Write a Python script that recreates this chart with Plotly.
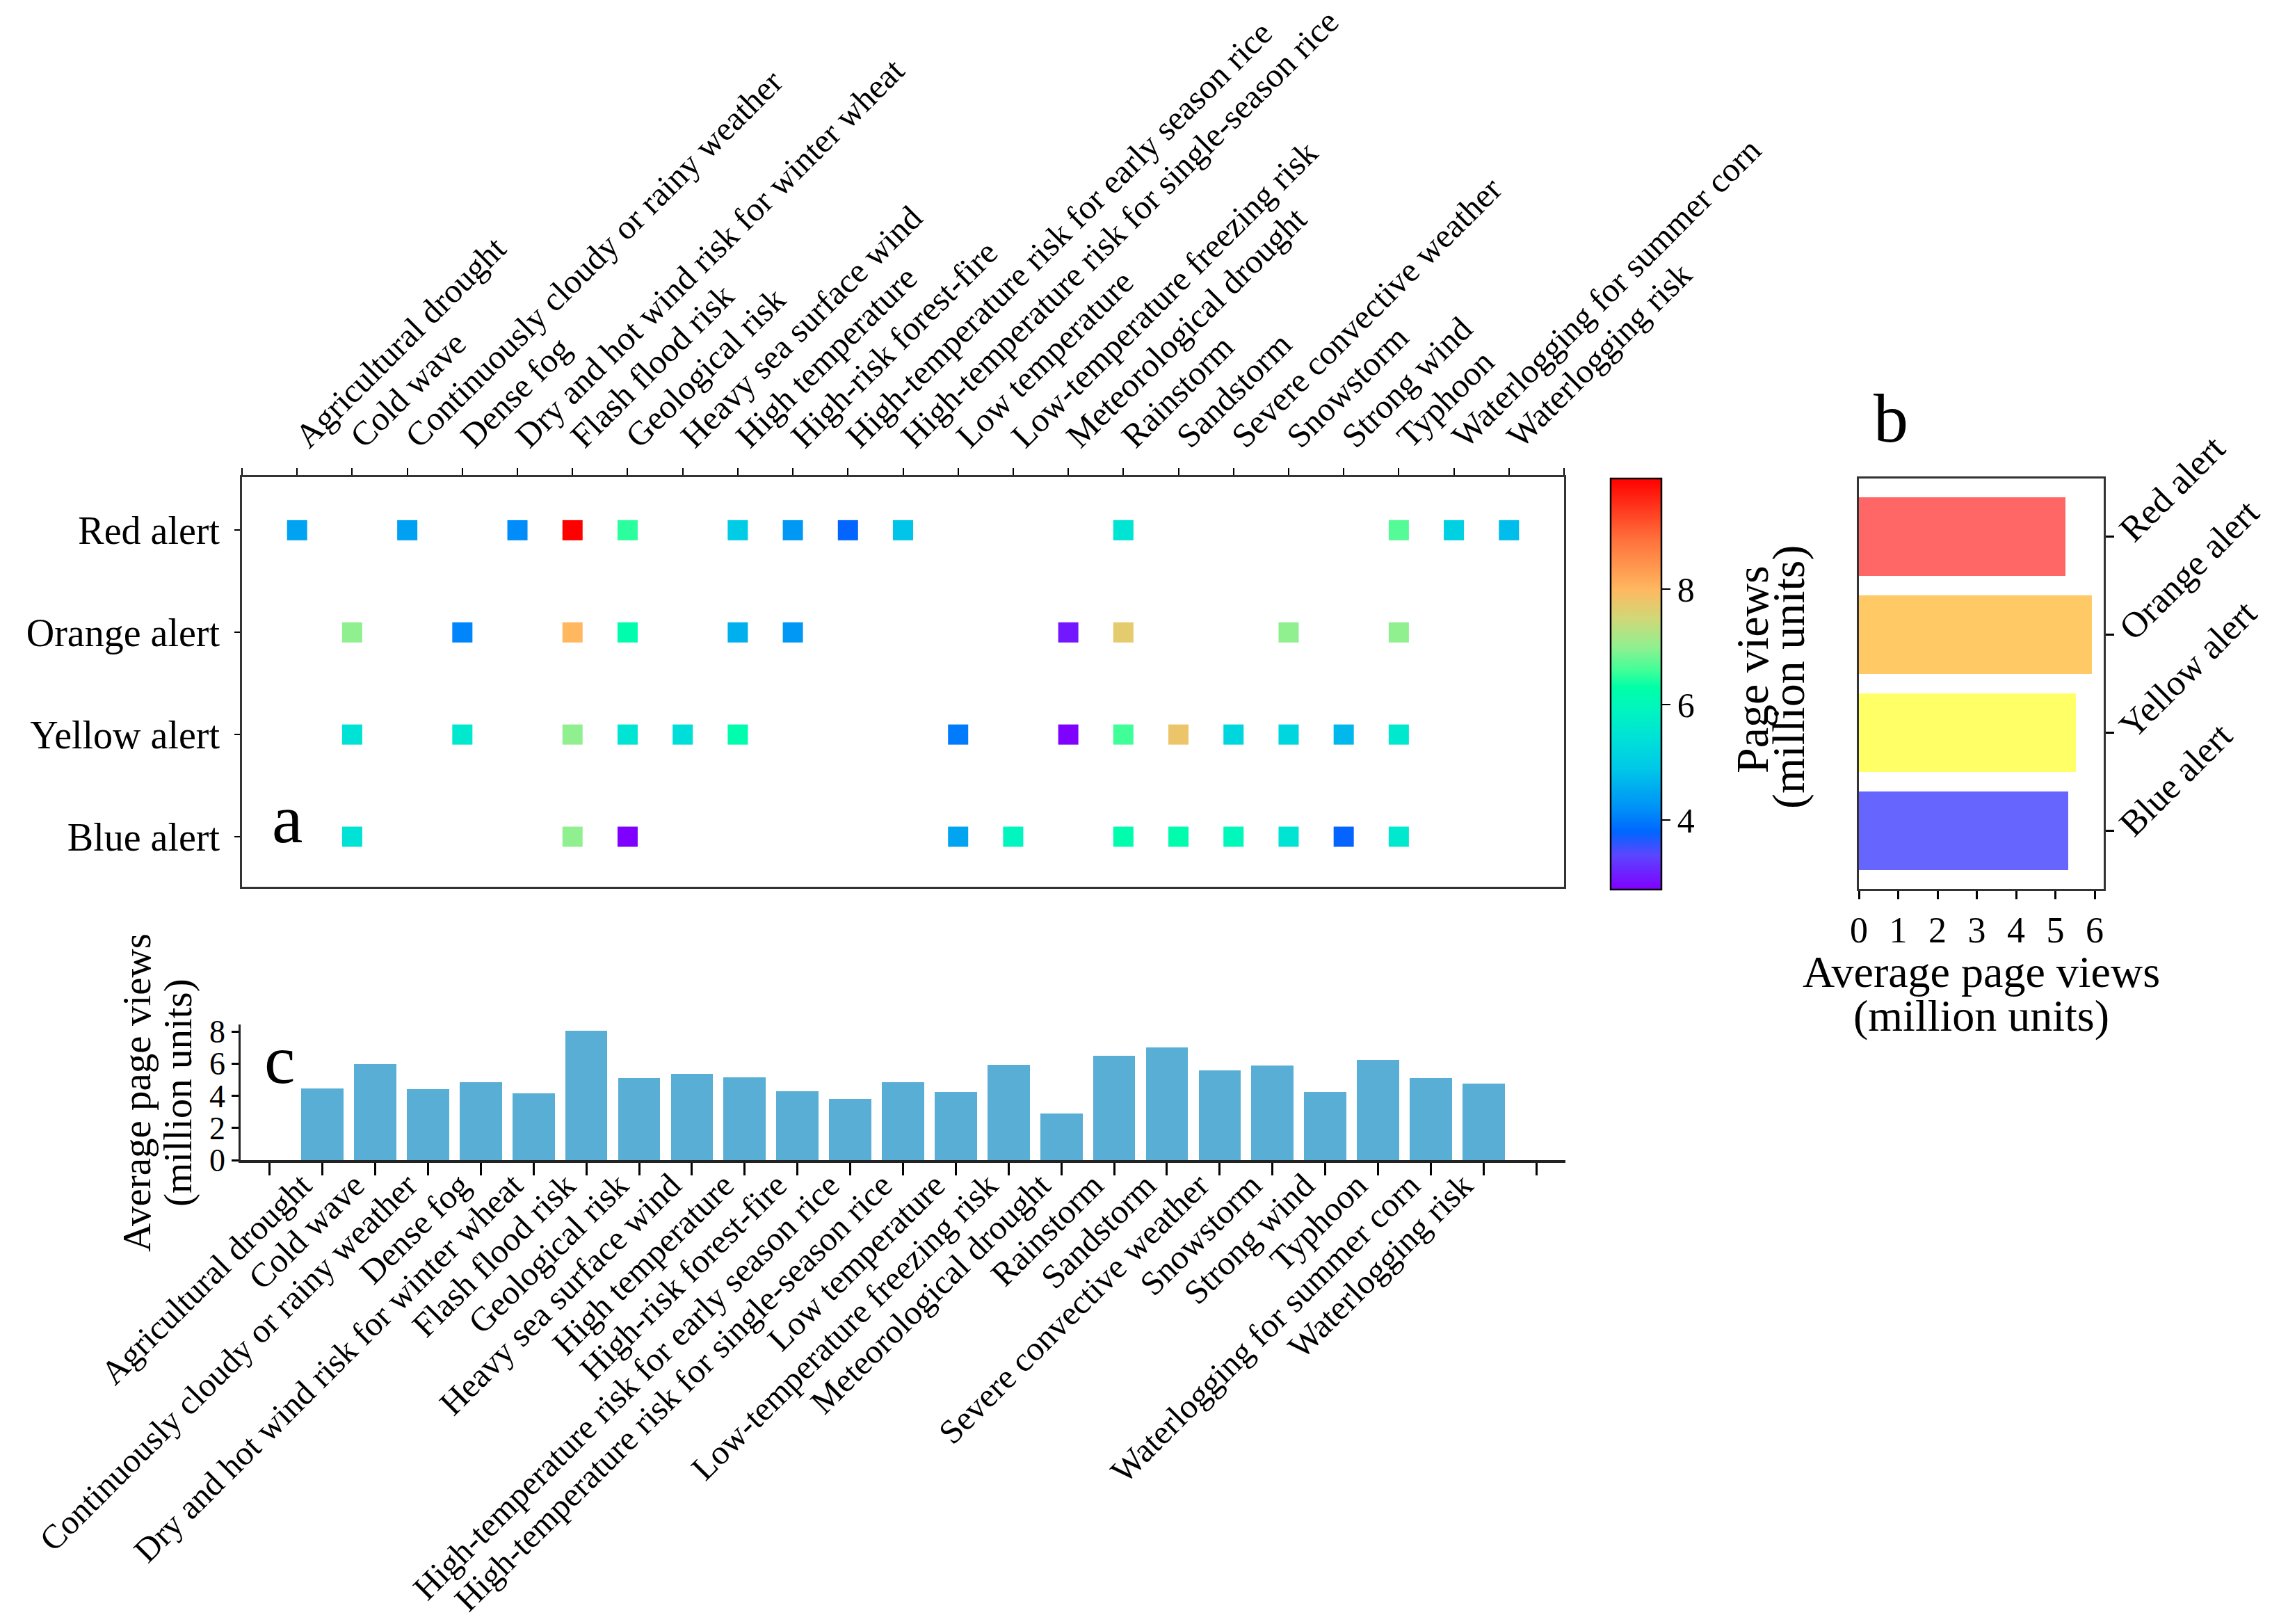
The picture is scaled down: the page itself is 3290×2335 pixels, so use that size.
import plotly.graph_objects as go

# ---------------- data ----------------
hazards = [
    "Agricultural drought", "Cold wave", "Continuously cloudy or rainy weather", "Dense fog",
    "Dry and hot wind risk for winter wheat", "Flash flood risk", "Geological risk",
    "Heavy sea surface wind", "High temperature", "High-risk forest-fire",
    "High-temperature risk for early season rice", "High-temperature risk for single-season rice",
    "Low temperature", "Low-temperature freezing risk", "Meteorological drought", "Rainstorm",
    "Sandstorm", "Severe convective weather", "Snowstorm", "Strong wind", "Typhoon",
    "Waterlogging for summer corn", "Waterlogging risk",
]
alerts = ["Red alert", "Orange alert", "Yellow alert", "Blue alert"]

# page views (million units) per hazard, None = no alert of that level
red_views = [4.44, None, 4.40, None, 4.17, 9.93, 6.5, None, 5.0, 4.3, 3.79, 4.86, None,
             None, None, 5.5, None, None, None, None, 6.7, 5.09, 4.76]
orange_views = [None, 7.0, None, 4.1, None, 8.0, 6.2, None, 4.6, 4.3, None, None, None,
                None, 3.0, 7.7, None, None, 7.0, None, 7.0, None, None]
yellow_views = [None, 5.45, None, 5.6, None, 7.0, 5.5, 5.36, 6.2, None, None, None, 4.0,
                None, 2.82, 6.6, 7.8, 5.2, 5.2, 4.7, 5.6, None, None]
blue_views = [None, 5.45, None, None, None, 7.0, 2.8, None, None, None, None, None, 4.45,
              5.91, None, 6.2, 6.2, 6.0, 5.5, 3.78, 5.6, None, None]

# average page views per alert level (panel b)
alert_avg = [5.25, 5.93, 5.53, 5.33]
alert_colors = ["rgba(255,0,0,0.6)", "rgba(255,165,0,0.6)",
                "rgba(255,255,0,0.6)", "rgba(0,0,255,0.6)"]

# average page views per hazard (panel c)
hazard_avg = [4.44, 5.97, 4.40, 4.84, 4.17, 8.04, 5.09, 5.36, 5.17, 4.30, 3.79, 4.86,
              4.24, 5.91, 2.91, 6.49, 7.00, 5.58, 5.89, 4.24, 6.23, 5.09, 4.76]

cmin, cmax = 2.8, 9.93
stops = [(2.8, "#8000FF"), (3.4, "#5A46FF"), (3.8, "#0066FF"), (4.2, "#0090F8"),
         (4.5, "#00A8F0"), (4.9, "#00C8E8"), (5.4, "#00E0D8"), (5.9, "#00F5C0"),
         (6.3, "#00FFA8"), (6.6, "#40FF98"), (7.0, "#90F090"), (7.5, "#D0D878"),
         (8.0, "#FFB860"), (8.9, "#FF6E3A"), (9.93, "#FF0000")]
colorscale = [[(v - cmin) / (cmax - cmin), c] for v, c in stops]

FONT = "Liberation Serif"
pad_l, pad_r = " ", "  "
cat_array = [pad_l] + hazards + [pad_r]

W, H = 3290, 2335

def px_x(x):
    return x / W

def px_y(y):
    return 1 - y / H

fig = go.Figure()

# ---------------- panel a ----------------
for name, vals in zip(alerts, [red_views, orange_views, yellow_views, blue_views]):
    xs = [h for h, v in zip(hazards, vals) if v is not None]
    vs = [v for v in vals if v is not None]
    fig.add_trace(go.Scatter(
        x=xs, y=[name] * len(xs), mode="markers",
        marker=dict(symbol="square", size=29, color=vs, coloraxis="coloraxis",
                    line=dict(width=0)),
        xaxis="x", yaxis="y", showlegend=False, name=name))

# ---------------- panel b ----------------
fig.add_trace(go.Bar(
    x=alert_avg, y=alerts, orientation="h", width=0.8,
    marker=dict(color=alert_colors, line=dict(width=0)),
    xaxis="x2", yaxis="y2", showlegend=False))

# ---------------- panel c ----------------
fig.add_trace(go.Bar(
    x=hazards, y=hazard_avg, width=0.8,
    marker=dict(color="#58AED4", line=dict(width=0)),
    xaxis="x3", yaxis="y3", showlegend=False))

line_col = "#333333"
tick_font = dict(family=FONT, size=49, color="black")


def label(text, x, y, size, angle=0):
    return dict(text=text, x=px_x(x), y=px_y(y), xref="paper", yref="paper",
                xanchor="center", yanchor="middle", showarrow=False, textangle=angle,
                font=dict(family=FONT, size=size, color="black"))


fig.update_layout(
    template="none",
    width=W, height=H,
    margin=dict(l=0, r=0, t=0, b=0, autoexpand=False),
    paper_bgcolor="white", plot_bgcolor="white",
    font=dict(family=FONT, color="black"),
    bargap=0,
    coloraxis=dict(
        colorscale=colorscale, cmin=cmin, cmax=cmax,
        colorbar=dict(
            x=px_x(2308), xanchor="left", xpad=0,
            y=px_y(975), yanchor="middle", ypad=0,
            len=591, lenmode="pixels", thickness=73, thicknessmode="pixels",
            outlinewidth=2.5, outlinecolor="black",
            tickvals=[4, 6, 8], ticks="outside", ticklen=12, tickwidth=2,
            tickcolor="black",
            tickfont=dict(family=FONT, size=50, color="black"),
        ),
    ),
    xaxis=dict(
        domain=[px_x(340), px_x(2241)], anchor="y", side="top", automargin=False,
        type="category", categoryorder="array", categoryarray=cat_array,
        range=[0, 24], tickangle=-45, ticks="outside", ticklen=10, tickwidth=2,
        tickcolor="black", tickfont=tick_font,
        showline=True, mirror=True, linewidth=2.5, linecolor=line_col,
        showgrid=False, zeroline=False,
    ),
    yaxis=dict(
        domain=[px_y(1267), px_y(678)], anchor="x", automargin=False,
        type="category", categoryorder="array", categoryarray=alerts,
        range=[3.49, -0.52], ticks="outside", ticklen=8, tickwidth=2,
        ticklabelstandoff=10,
        tickcolor="black", tickfont=dict(family=FONT, size=56, color="black"),
        showline=True, mirror=True, linewidth=2.5, linecolor=line_col,
        showgrid=False, zeroline=False,
    ),
    xaxis2=dict(
        domain=[px_x(2665), px_x(3017)], anchor="y2", automargin=False,
        range=[0, 6.23], tickvals=[0, 1, 2, 3, 4, 5, 6],
        ticks="outside", ticklen=12, tickwidth=2.5, tickcolor="black",
        tickfont=dict(family=FONT, size=52, color="black"),
        showline=True, mirror=True, linewidth=3, linecolor=line_col,
        showgrid=False, zeroline=False,
    ),
    yaxis2=dict(
        domain=[px_y(1270), px_y(680)], anchor="x2", side="right", automargin=False,
        type="category", categoryorder="array", categoryarray=alerts,
        range=[3.59, -0.59], tickangle=-45,
        ticks="outside", ticklen=12, tickwidth=2.5, tickcolor="black",
        tickfont=dict(family=FONT, size=52, color="black"),
        showline=True, mirror=True, linewidth=3, linecolor=line_col,
        showgrid=False, zeroline=False,
    ),
    xaxis3=dict(
        domain=[px_x(338), px_x(2243)], anchor="y3", automargin=False,
        type="category", categoryorder="array", categoryarray=cat_array,
        range=[-0.55, 24.55], tickangle=-45,
        ticks="outside", ticklen=18, tickwidth=2.5, tickcolor="black",
        ticklabelstandoff=-34, ticklabelshift=-30,
        tickfont=tick_font,
        showline=True, linewidth=4, linecolor="#222222",
        showgrid=False, zeroline=False,
    ),
    yaxis3=dict(
        domain=[px_y(1660), px_y(1465)], anchor="x3", automargin=False,
        range=[0, 8.44], tickvals=[0, 2, 4, 6, 8],
        ticks="outside", ticklen=10, tickwidth=2.5, tickcolor="black",
        tickfont=dict(family=FONT, size=46, color="black"),
        showline=True, linewidth=2.5, linecolor="#222222",
        showgrid=False, zeroline=False,
    ),
    annotations=[
        label("a", 405, 1169, 100),
        label("b", 2711, 594, 100),
        label("c", 394, 1515, 100),
        # colorbar title
        label("Page views", 2511, 955, 66, -90),
        label("(million units)", 2564, 965, 66, -90),
        # panel b x title
        label("Average page views", 2841, 1389, 64),
        label("(million units)", 2841, 1452, 64),
        # panel c y title
        label("Average page views", 189, 1563, 57, -90),
        label("(million units)", 248, 1563, 57, -90),
    ],
)

fig.write_html("out.html")
